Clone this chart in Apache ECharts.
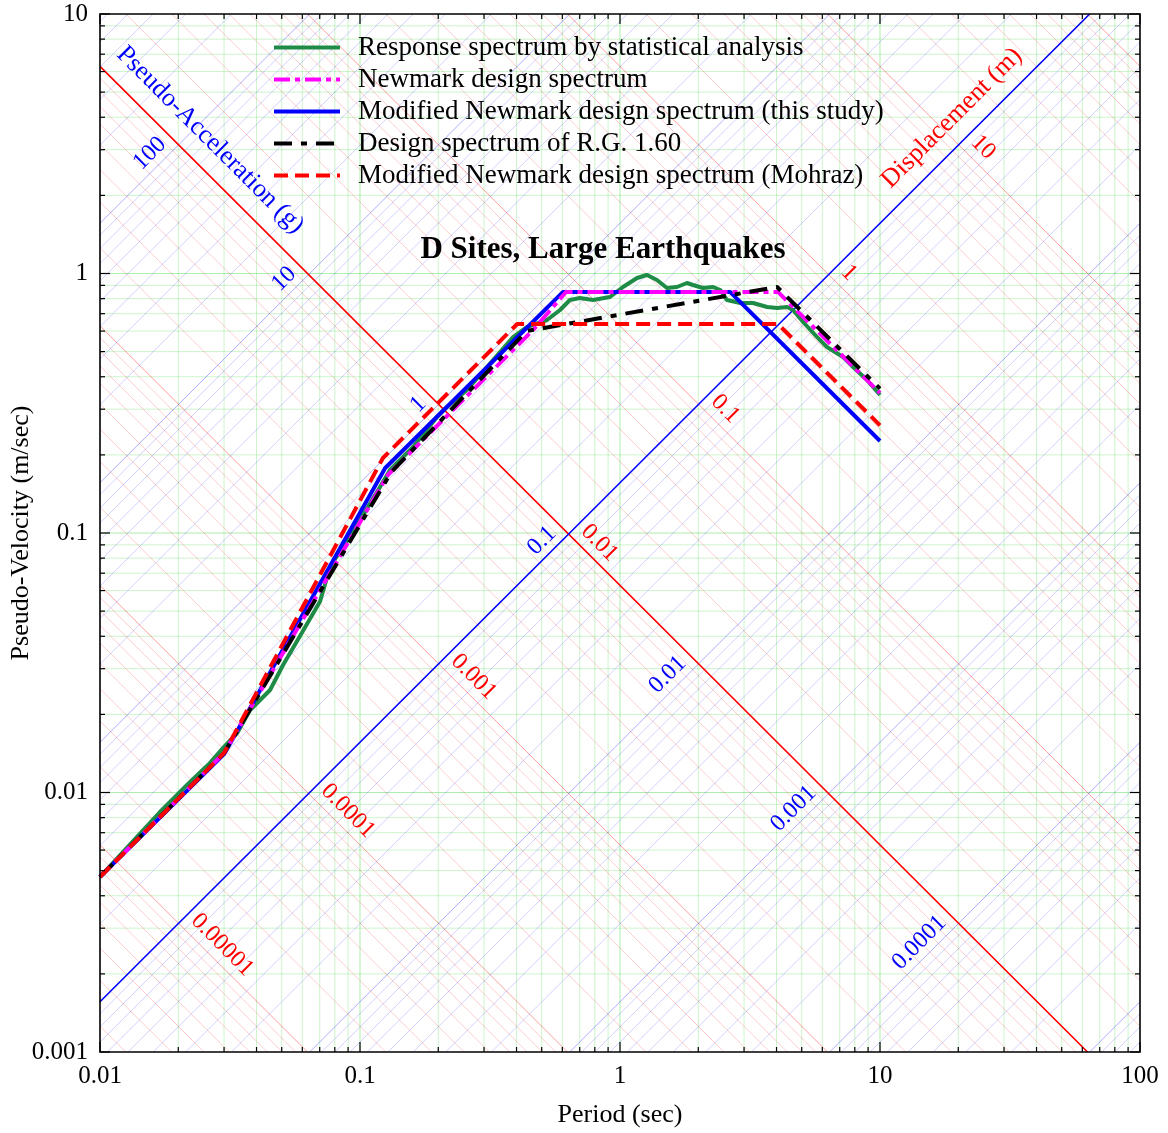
<!DOCTYPE html>
<html>
<head>
<meta charset="utf-8">
<script src="https://cdn.jsdelivr.net/npm/echarts@6/dist/echarts.min.js"></script>
<style>
  html, body { margin: 0; padding: 0; background: #ffffff; }
  #chart { width: 1168px; height: 1133px; }
</style>
</head>
<body>
<div id="chart"></div>
<script>
// Tripartite plot: period (s) against pseudo-velocity (m/s), with
// constant-displacement and constant-acceleration families drawn diagonally.

// [period (s), pseudo-velocity (m/s)]
const responseSpectrum = [
  [0.01, 0.00473], [0.013, 0.00628], [0.017, 0.00841], [0.0222, 0.01098],
  [0.0265, 0.0130], [0.03, 0.0150], [0.0337, 0.01695], [0.0378, 0.02078],
  [0.0402, 0.02212], [0.0451, 0.02483], [0.0506, 0.0310], [0.0604, 0.0420],
  [0.0702, 0.0545], [0.0767, 0.0740], [0.1, 0.1122], [0.1194, 0.1504],
  [0.1304, 0.1749], [0.16, 0.2145], [0.1977, 0.2799], [0.216, 0.3059],
  [0.258, 0.3556], [0.308, 0.4362], [0.388, 0.5689], [0.438, 0.6219],
  [0.524, 0.662], [0.588, 0.7234], [0.642, 0.7904], [0.701, 0.8046],
  [0.787, 0.7904], [0.915, 0.8117], [1.027, 0.8872], [1.163, 0.961],
  [1.27, 0.9867], [1.387, 0.944], [1.516, 0.8794], [1.656, 0.8872],
  [1.81, 0.9192], [1.909, 0.9031], [2.085, 0.8794], [2.28, 0.8872],
  [2.43, 0.864], [2.58, 0.7904], [2.9, 0.7696], [3.25, 0.7696],
  [3.68, 0.7428], [4.02, 0.7362], [4.39, 0.7428], [4.63, 0.7234],
  [5.06, 0.6503], [5.73, 0.5689], [6.25, 0.5208], [7.21, 0.4765],
  [7.88, 0.4362], [8.91, 0.3886], [10, 0.3402]
];
const newmarkSpectrum = [
  [0.01, 0.00473], [0.03, 0.0142], [0.128, 0.1673], [0.463, 0.6057],
  [0.62, 0.849], [4.05, 0.849], [10, 0.3463]
];
const modifiedNewmark = [
  [0.01, 0.00473], [0.03, 0.01405], [0.125, 0.178], [0.604, 0.849],
  [2.65, 0.849], [10, 0.2262]
];
const rg160Spectrum = [
  [0.01, 0.00473], [0.03, 0.0142], [0.132, 0.1718], [0.438, 0.6005],
  [4.02, 0.8872], [10, 0.36]
];
const mohrazSpectrum = [
  [0.01, 0.00473], [0.03, 0.0142], [0.1225, 0.1945], [0.4023, 0.6388],
  [4.05, 0.6388], [10, 0.26]
];

const seriesNames = [
  'Response spectrum by statistical analysis',
  'Newmark design spectrum',
  'Modified Newmark design spectrum (this study)',
  'Design spectrum of R.G. 1.60',
  'Modified Newmark design spectrum (Mohraz)'
];

// Labels for the diagonal families
const dispLabels = ['10', '1', '0.1', '0.01', '0.001', '0.0001', '0.00001'];     // m
const accelLabels = ['100', '10', '1', '0.1', '0.01', '0.001', '0.0001'];        // g
const refDisp = 0.01;   // highlighted constant-displacement line (m)
const refAccel = 0.1;   // highlighted constant-acceleration line (g)
const G = 9.81;

const T_MIN = 0.01, T_MAX = 100, V_MIN = 0.001, V_MAX = 10;
const SERIF = '"Liberation Serif", "Times New Roman", serif';
const TWO_PI = 2 * Math.PI;
const L = Math.log10;

function mantissaLevels(kFrom, kTo) {
  const out = [];
  for (let k = kFrom; k <= kTo; k++) {
    for (let m = 1; m <= 9; m++) out.push({ v: m * Math.pow(10, k), major: m === 1 });
  }
  return out;
}

// Segment of a constant-displacement line V = 2*pi*D/T inside the plot box
function dispSegment(D) {
  const c = L(TWO_PI * D);
  const lo = Math.max(L(T_MIN), c - L(V_MAX));
  const hi = Math.min(L(T_MAX), c - L(V_MIN));
  if (hi - lo < 1e-6) return null;
  return [[Math.pow(10, lo), Math.pow(10, c - lo)], [Math.pow(10, hi), Math.pow(10, c - hi)]];
}
// Segment of a constant-acceleration line V = A*g*T/(2*pi) inside the plot box
function accelSegment(A) {
  const c = L(A * G / TWO_PI);
  const lo = Math.max(L(T_MIN), L(V_MIN) - c);
  const hi = Math.min(L(T_MAX), L(V_MAX) - c);
  if (hi - lo < 1e-6) return null;
  return [[Math.pow(10, lo), Math.pow(10, c + lo)], [Math.pow(10, hi), Math.pow(10, c + hi)]];
}

function seg(api, a, b, stroke, width) {
  const p = api.coord(a), q = api.coord(b);
  return { type: 'line', silent: true,
    shape: { x1: p[0], y1: p[1], x2: q[0], y2: q[1] },
    style: { stroke: stroke, lineWidth: width } };
}

// Background: log grid plus the two diagonal families
function renderBackground(params, api) {
  const kids = [];
  mantissaLevels(-2, 1).forEach(function (t) {
    if (t.v <= T_MIN || t.v >= T_MAX) return;
    kids.push(seg(api, [t.v, V_MIN], [t.v, V_MAX], t.major ? 'rgba(0,200,0,0.32)' : 'rgba(0,200,0,0.2)', 1));
  });
  mantissaLevels(-3, 0).forEach(function (t) {
    if (t.v <= V_MIN || t.v >= V_MAX) return;
    kids.push(seg(api, [T_MIN, t.v], [T_MAX, t.v], t.major ? 'rgba(0,200,0,0.32)' : 'rgba(0,200,0,0.2)', 1));
  });
  mantissaLevels(-7, 3).forEach(function (d) {
    const s = dispSegment(d.v);
    if (s) kids.push(seg(api, s[0], s[1], d.major ? 'rgba(255,0,0,0.38)' : 'rgba(255,0,0,0.2)', 1));
  });
  mantissaLevels(-7, 3).forEach(function (a) {
    const s = accelSegment(a.v);
    if (s) kids.push(seg(api, s[0], s[1], a.major ? 'rgba(0,0,255,0.32)' : 'rgba(0,0,255,0.18)', 1));
  });
  const sd = dispSegment(refDisp);
  kids.push(seg(api, sd[0], sd[1], '#ff0000', 1.6));
  const sa = accelSegment(refAccel);
  kids.push(seg(api, sa[0], sa[1], '#0000ff', 1.6));
  return { type: 'group', children: kids };
}

// Inside tick marks on all four sides, and the frame
function renderTicks(params, api) {
  const kids = [];
  const tl = api.coord([T_MIN, V_MAX]), br = api.coord([T_MAX, V_MIN]);
  mantissaLevels(-2, 2).forEach(function (t) {
    if (t.v < T_MIN || t.v > T_MAX) return;
    const x = api.coord([t.v, V_MIN])[0];
    const len = t.major ? 10 : 5;
    kids.push({ type: 'line', shape: { x1: x, y1: br[1], x2: x, y2: br[1] - len }, style: { stroke: '#000', lineWidth: 1.2 } });
    kids.push({ type: 'line', shape: { x1: x, y1: tl[1], x2: x, y2: tl[1] + len }, style: { stroke: '#000', lineWidth: 1.2 } });
  });
  mantissaLevels(-3, 1).forEach(function (t) {
    if (t.v < V_MIN || t.v > V_MAX) return;
    const y = api.coord([T_MIN, t.v])[1];
    const len = t.major ? 10 : 5;
    kids.push({ type: 'line', shape: { x1: tl[0], y1: y, x2: tl[0] + len, y2: y }, style: { stroke: '#000', lineWidth: 1.2 } });
    kids.push({ type: 'line', shape: { x1: br[0], y1: y, x2: br[0] - len, y2: y }, style: { stroke: '#000', lineWidth: 1.2 } });
  });
  kids.push({ type: 'rect', shape: { x: tl[0], y: tl[1], width: br[0] - tl[0], height: br[1] - tl[1] },
    style: { fill: 'none', stroke: '#000', lineWidth: 1.6 } });
  return { type: 'group', children: kids, silent: true };
}

// Value labels along the highlighted diagonals, plus the family titles
function renderLabels(params, api) {
  const kids = [];
  dispLabels.forEach(function (s) {
    const d = parseFloat(s);
    const T = TWO_PI * Math.sqrt(d / (refAccel * G));
    const p = api.coord([T, TWO_PI * d / T]);
    kids.push({ type: 'text', x: p[0] + 16, y: p[1] - 6, rotation: -Math.PI / 4,
      style: { text: s, fill: '#ff0000', fontFamily: SERIF, fontSize: 24, align: 'left', verticalAlign: 'middle' } });
  });
  accelLabels.forEach(function (s) {
    const a = parseFloat(s);
    const T = TWO_PI * Math.sqrt(refDisp / (a * G));
    const p = api.coord([T, TWO_PI * refDisp / T]);
    kids.push({ type: 'text', x: p[0] - 16, y: p[1] - 4, rotation: Math.PI / 4,
      style: { text: s, fill: '#0000ff', fontFamily: SERIF, fontSize: 24, align: 'right', verticalAlign: 'middle' } });
  });
  const pa = api.coord([0.0265, 3.27]);
  kids.push({ type: 'text', x: pa[0], y: pa[1], rotation: -Math.PI / 4,
    style: { text: 'Pseudo-Acceleration (g)', fill: '#0000ff', fontFamily: SERIF, fontSize: 26, align: 'center', verticalAlign: 'middle' } });
  const pd = api.coord([18.9, 3.97]);
  kids.push({ type: 'text', x: pd[0], y: pd[1], rotation: Math.PI / 4,
    style: { text: 'Displacement (m)', fill: '#ff0000', fontFamily: SERIF, fontSize: 26, align: 'center', verticalAlign: 'middle' } });
  return { type: 'group', children: kids, silent: true };
}

function fmt(v) { return String(Number(v.toPrecision(6))); }

const chart = echarts.init(document.getElementById('chart'), null, { renderer: 'canvas' });

function dataLine(name, data, color, type, z) {
  return {
    name: name, type: 'line', data: data, z: z,
    symbol: 'none', showSymbol: false, smooth: false, silent: true,
    lineStyle: { color: color, width: 4, type: type, cap: 'butt', join: 'round' },
    itemStyle: { color: color }
  };
}

chart.setOption({
  animation: false,
  backgroundColor: '#ffffff',
  textStyle: { fontFamily: SERIF },
  grid: { left: 100, right: 28, top: 14, bottom: 81, containLabel: false, outerBoundsMode: 'none' },
  xAxis: {
    type: 'log', logBase: 10, min: T_MIN, max: T_MAX,
    name: 'Period (sec)', nameLocation: 'middle', nameGap: 50,
    nameTextStyle: { fontFamily: SERIF, fontSize: 26, color: '#000' },
    axisLine: { show: false }, axisTick: { show: false }, splitLine: { show: false },
    axisLabel: { fontFamily: SERIF, fontSize: 25, color: '#000', margin: 12, formatter: fmt, showMinLabel: true, showMaxLabel: true }
  },
  yAxis: {
    type: 'log', logBase: 10, min: V_MIN, max: V_MAX,
    name: 'Pseudo-Velocity (m/sec)', nameLocation: 'middle', nameGap: 66, nameRotate: 90,
    nameMoveOverlap: false,
    nameTextStyle: { fontFamily: SERIF, fontSize: 26, color: '#000' },
    axisLine: { show: false }, axisTick: { show: false }, splitLine: { show: false },
    axisLabel: { fontFamily: SERIF, fontSize: 25, color: '#000', margin: 12, formatter: fmt, showMinLabel: true, showMaxLabel: true }
  },
  legend: {
    data: seriesNames, orient: 'vertical', left: 272, top: 34, padding: 0,
    itemWidth: 66, itemHeight: 14, itemGap: 5, selectedMode: false,
    itemStyle: { opacity: 0 },
    lineStyle: { width: 4 },
    textStyle: { fontFamily: SERIF, fontSize: 27, color: '#000', padding: [0, 0, 0, 13], lineHeight: 26 }
  },
  graphic: [{
    type: 'text', x: 603, y: 250, z: 50,
    style: { text: 'D Sites, Large Earthquakes', fontFamily: SERIF, fontSize: 31, fontWeight: 'bold',
      fill: '#000', align: 'center', verticalAlign: 'middle' }
  }],
  series: [
    { type: 'custom', name: 'background', z: 1, silent: true, data: [[1, 1]], renderItem: renderBackground },
    { type: 'custom', name: 'labels', z: 2, silent: true, data: [[1, 1]], renderItem: renderLabels },
    dataLine(seriesNames[0], responseSpectrum, '#1e8c46', 'solid', 3),
    dataLine(seriesNames[2], modifiedNewmark, '#0000ff', 'solid', 4),
    dataLine(seriesNames[1], newmarkSpectrum, '#ff00ff', [16, 5, 5, 5], 5),
    dataLine(seriesNames[3], rg160Spectrum, '#000000', [18, 9, 6, 9], 6),
    dataLine(seriesNames[4], mohrazSpectrum, '#ff0000', [14, 7], 7),
    { type: 'custom', name: 'frame', z: 20, silent: true, data: [[1, 1]], renderItem: renderTicks }
  ]
});
</script>
</body>
</html>
